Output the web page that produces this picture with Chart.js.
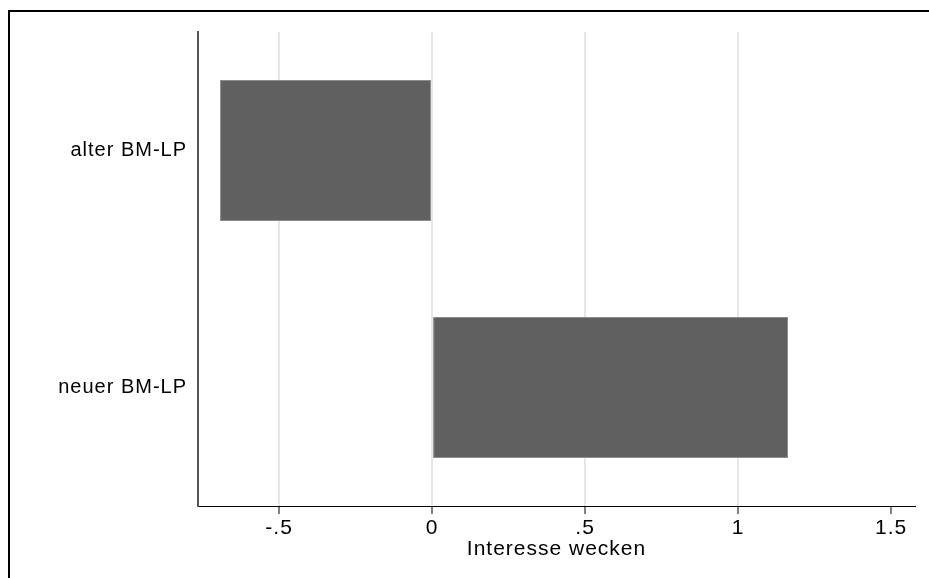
<!DOCTYPE html>
<html>
<head>
<meta charset="utf-8">
<script src="https://cdn.jsdelivr.net/npm/chart.js@4/dist/chart.umd.min.js"></script>
<style>
    html, body { margin: 0; padding: 0; background: #fff; }
    #wrap { position: relative; width: 929px; height: 578px; }
    #frame {
        position: absolute; left: 8px; top: 10px; right: 0; bottom: 0;
        border-top: 2px solid #000; border-left: 2px solid #000;
    }
    #c { position: absolute; left: 0; top: 0; }
</style>
</head>
<body>
<div id="wrap">
    <div id="frame"></div>
    <canvas id="c" width="929" height="578"></canvas>
</div>
<script>
const categories = ['alter BM-LP', 'neuer BM-LP'];
const values = [-0.693, 1.163];
const tickValues = [-0.5, 0, 0.5, 1, 1.5];
const tickLabels = ['-.5', '0', '.5', '1', '1.5'];
const axisTitle = 'Interesse wecken';

const FONT = '"Liberation Sans", Arial, sans-serif';

// Stata-Grafik wirkt horizontal gestreckt -> etwas Zeichenabstand
const spacingPlugin = {
    id: 'spacing',
    beforeLayout(chart) { chart.ctx.letterSpacing = '1px'; },
    beforeDraw(chart) { chart.ctx.letterSpacing = '1px'; }
};

new Chart(document.getElementById('c'), {
    type: 'bar',
    data: {
        labels: categories,
        datasets: [{
            data: values,
            backgroundColor: '#606060',
            borderColor: '#8c8c8c',
            borderWidth: 1,
            borderSkipped: false,
            barPercentage: 0.595,
            categoryPercentage: 1
        }]
    },
    options: {
        indexAxis: 'y',
        responsive: false,
        animation: false,
        layout: { padding: { left: 0, top: 32, right: 14, bottom: 0 } },
        plugins: { legend: { display: false }, tooltip: { enabled: false } },
        scales: {
            x: {
                type: 'linear',
                min: -0.765,
                max: 1.578,
                afterBuildTicks: axis => { axis.ticks = tickValues.map(v => ({ value: v })); },
                afterFit: axis => { axis.height = 72; },
                border: { display: true, color: '#000', width: 1 },
                grid: {
                    color: ctx => (ctx.tick && ctx.tick.value === 1.5) ? 'rgba(0,0,0,0)' : '#e6e6e6',
                    lineWidth: 2,
                    tickColor: '#000',
                    tickWidth: 1,
                    tickLength: 8
                },
                ticks: {
                    color: '#000',
                    padding: 2,
                    maxRotation: 0,
                    font: { family: FONT, size: 21 },
                    callback: v => {
                        const i = tickValues.indexOf(v);
                        return i >= 0 ? tickLabels[i] : '';
                    }
                },
                title: {
                    display: true,
                    text: axisTitle,
                    color: '#000',
                    font: { family: FONT, size: 21 },
                    padding: { top: 0, bottom: 16 }
                }
            },
            y: {
                afterFit: axis => { axis.width = 198; },
                border: { display: true, color: '#555', width: 2 },
                grid: { display: false, drawTicks: false },
                ticks: {
                    color: '#000',
                    padding: 11,
                    font: { family: FONT, size: 20 }
                }
            }
        }
    },
    plugins: [spacingPlugin]
});
</script>
</body>
</html>
